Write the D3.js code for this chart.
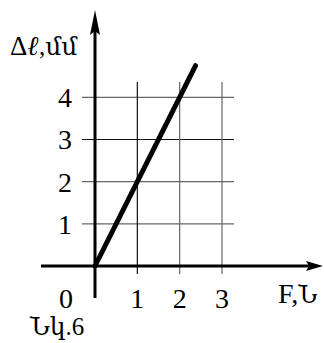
<!DOCTYPE html>
<html>
<head>
<meta charset="utf-8">
<script src="https://cdn.jsdelivr.net/npm/d3@7"></script>
<style>
  html, body { margin: 0; padding: 0; background: #fff; }
  svg { display: block; }
  text { font-family: "Liberation Serif", "DejaVu Serif", serif; fill: #000; }
</style>
</head>
<body>
<svg id="chart" width="324" height="343"></svg>
<script>
// Force (N) vs. elongation (mm)
const forceTicks = [1, 2, 3];
const elongTicks = [1, 2, 3, 4];
const forceValues = [0, 2.375];
const elongValues = [0, 4.75];
const xAxisLabelParts = ["F,", "Ն"];
const yAxisLabelParts = ["Δ", "ℓ", ",մմ"];
const originLabel = "0";
const figureLabel = "Նկ.6";

const svg = d3.select("#chart");

const x = d3.scaleLinear().domain([0, 3]).range([95, 222]);
const y = d3.scaleLinear().domain([0, 4]).range([266, 97.3]);

// grid
const gridColor = d => (d === 1 ? "#111" : "#666");
const hGridColor = d => (d === 3 ? "#111" : "#666");

svg.append("g").selectAll("line").data(elongTicks).join("line")
  .attr("x1", 82).attr("x2", 234)
  .attr("y1", d => y(d)).attr("y2", d => y(d))
  .attr("stroke", hGridColor).attr("stroke-width", 1.2);

svg.append("g").selectAll("line").data(forceTicks).join("line")
  .attr("x1", d => x(d)).attr("x2", d => x(d))
  .attr("y1", 82).attr("y2", 274)
  .attr("stroke", gridColor).attr("stroke-width", 1.2);

// axes
svg.append("line").attr("x1", 41).attr("x2", 312).attr("y1", y(0)).attr("y2", y(0))
  .attr("stroke", "#000").attr("stroke-width", 3);
svg.append("path")
  .attr("d", `M323,${y(0)} L306,${y(0) - 5} L309,${y(0)} L306,${y(0) + 5} Z`)
  .attr("fill", "#000");

svg.append("line").attr("x1", x(0)).attr("x2", x(0)).attr("y1", 22).attr("y2", 298)
  .attr("stroke", "#000").attr("stroke-width", 3);
svg.append("path")
  .attr("d", `M${x(0)},10 L${x(0) - 5},35 L${x(0)},31 L${x(0) + 5},35 Z`)
  .attr("fill", "#000");

// tick labels
svg.append("g").selectAll("text").data(elongTicks).join("text")
  .attr("x", 65).attr("y", d => y(d) + 10)
  .attr("text-anchor", "middle").attr("font-size", 28)
  .text(d => d);

svg.append("g").selectAll("text").data(forceTicks).join("text")
  .attr("x", d => x(d)).attr("y", 308)
  .attr("text-anchor", "middle").attr("font-size", 28)
  .text(d => d);

svg.append("text").attr("x", 66).attr("y", 308)
  .attr("text-anchor", "middle").attr("font-size", 28).text(originLabel);

// data line
const line = d3.line().x(d => x(d[0])).y(d => y(d[1]));
svg.append("path")
  .datum(d3.zip(forceValues, elongValues))
  .attr("d", line)
  .attr("fill", "none").attr("stroke", "#000")
  .attr("stroke-width", 5).attr("stroke-linecap", "round");

// axis titles
const yTitle = svg.append("text").attr("x", 10).attr("y", 55).attr("font-size", 27);
yTitle.append("tspan").text(yAxisLabelParts[0]);
yTitle.append("tspan").attr("font-weight", "bold").attr("font-style", "italic").text(yAxisLabelParts[1]);
yTitle.append("tspan").attr("font-size", 25).text(yAxisLabelParts[2]);

const xTitle = svg.append("text").attr("x", 278).attr("y", 303).attr("font-size", 28);
xTitle.append("tspan").text(xAxisLabelParts[0]);
xTitle.append("tspan").attr("font-size", 24).text(xAxisLabelParts[1]);

svg.append("text").attr("x", 30).attr("y", 335).attr("font-size", 25).text(figureLabel);
</script>
</body>
</html>
